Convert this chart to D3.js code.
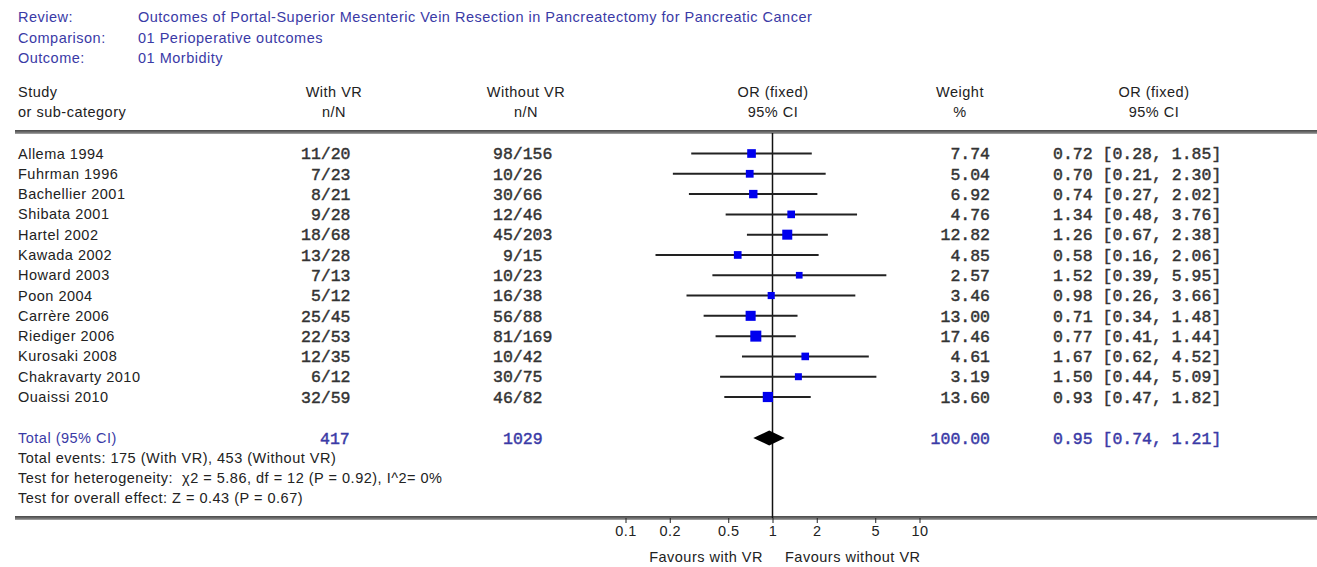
<!DOCTYPE html>
<html>
<head>
<meta charset="utf-8">
<script src="https://cdn.jsdelivr.net/npm/d3@7"></script>
<style>
  body { margin: 0; background: #fff; }
  text { white-space: pre; }
  .sans { font-family: 'Liberation Sans', Arial, sans-serif; font-size: 14.5px; letter-spacing: 0.5px; fill: #222; }
  .mono { font-family: 'Liberation Mono', 'Courier New', monospace; font-size: 16.5px; fill: #333; stroke: #333; stroke-width: 0.45px; }
</style>
</head>
<body>
<script>
// study rows
const studies = ["Allema 1994", "Fuhrman 1996", "Bachellier 2001", "Shibata 2001", "Hartel 2002",
  "Kawada 2002", "Howard 2003", "Poon 2004", "Carrère 2006", "Riediger 2006", "Kurosaki 2008",
  "Chakravarty 2010", "Ouaissi 2010"];
const evWith = [11, 7, 8, 9, 18, 13, 7, 5, 25, 22, 12, 6, 32];
const nWith = [20, 23, 21, 28, 68, 28, 13, 12, 45, 53, 35, 12, 59];
const evWithout = [98, 10, 30, 12, 45, 9, 10, 16, 56, 81, 10, 30, 46];
const nWithout = [156, 26, 66, 46, 203, 15, 23, 38, 88, 169, 42, 75, 82];
const weights = [7.74, 5.04, 6.92, 4.76, 12.82, 4.85, 2.57, 3.46, 13.00, 17.46, 4.61, 3.19, 13.60];
const ors = [0.72, 0.70, 0.74, 1.34, 1.26, 0.58, 1.52, 0.98, 0.71, 0.77, 1.67, 1.50, 0.93];
const lows = [0.28, 0.21, 0.27, 0.48, 0.67, 0.16, 0.39, 0.26, 0.34, 0.41, 0.62, 0.44, 0.47];
const highs = [1.85, 2.30, 2.02, 3.76, 2.38, 2.06, 5.95, 3.66, 1.48, 1.44, 4.52, 5.09, 1.82];

// pooled result
const totalN = [417, 1029];
const totalWeight = 100.00;
const totalOR = [0.95, 0.74, 1.21];

const ticks = [0.1, 0.2, 0.5, 1, 2, 5, 10];

const w = 1317;
const h = 567;
const blue = "#3a3aa6";

const svg = d3.select("body")
  .append("svg")
  .attr("width", w)
  .attr("height", h);

svg.append("rect").attr("width", w).attr("height", h).attr("fill", "#fff");

const x = d3.scaleLog().domain([0.1, 10]).range([625.5, 919.5]);
const y = d3.scaleLinear().domain([0, studies.length - 1]).range([153.5, 397]);
const size = d3.scaleSqrt().domain([0, d3.max(weights)]).range([4, 11]);
const totalY = 438;

// review info
const info = [["Review:", "Outcomes of Portal-Superior Mesenteric Vein Resection in Pancreatectomy for Pancreatic Cancer"],
  ["Comparison:", "01 Perioperative outcomes"],
  ["Outcome:", "01 Morbidity"]];
info.forEach((r, i) => {
  svg.append("text").attr("class", "sans").attr("x", 18).attr("y", 17 + i * 20.5).attr("dy", "0.35em")
    .text(r[0]).style("fill", blue);
  svg.append("text").attr("class", "sans").attr("x", 138).attr("y", 17 + i * 20.5).attr("dy", "0.35em")
    .text(r[1]).style("fill", blue);
});

// column headers
const heads = [
  [18, "start", "Study", "or sub-category"],
  [334, "middle", "With VR", "n/N"],
  [526, "middle", "Without VR", "n/N"],
  [773, "middle", "OR (fixed)", "95% CI"],
  [960, "middle", "Weight", "%"],
  [1154, "middle", "OR (fixed)", "95% CI"]
];
heads.forEach(c => {
  [c[2], c[3]].forEach((t, j) => {
    svg.append("text").attr("class", "sans").attr("x", c[0]).attr("y", 92 + j * 20).attr("dy", "0.35em")
      .attr("text-anchor", c[1]).text(t);
  });
});

// rules
[132, 518].forEach(yy => {
  svg.append("line").attr("x1", 15).attr("x2", w).attr("y1", yy).attr("y2", yy)
    .attr("stroke", "#777").attr("stroke-width", 3.5);
  svg.append("line").attr("x1", 15).attr("x2", w).attr("y1", yy - 1.2).attr("y2", yy - 1.2)
    .attr("stroke", "#333").attr("stroke-width", 1);
});

// null line
svg.append("line").attr("x1", x(1)).attr("x2", x(1)).attr("y1", 133).attr("y2", 518)
  .attr("stroke", "#111").attr("stroke-width", 1.5);

const pad = (n) => (n < 10 ? " " + n : "" + n);

const rows = svg.selectAll("g.row")
  .data(studies)
  .join("g")
  .attr("class", "row");

rows.append("text").attr("class", "sans")
  .attr("x", 18).attr("y", (d, i) => y(i)).attr("dy", "0.35em")
  .text(d => d);

rows.append("text").attr("class", "mono")
  .attr("x", 301).attr("y", (d, i) => y(i)).attr("dy", "0.35em")
  .text((d, i) => pad(evWith[i]) + "/" + nWith[i]);

rows.append("text").attr("class", "mono")
  .attr("x", 493).attr("y", (d, i) => y(i)).attr("dy", "0.35em")
  .text((d, i) => pad(evWithout[i]) + "/" + nWithout[i]);

rows.append("text").attr("class", "mono")
  .attr("x", 990).attr("y", (d, i) => y(i)).attr("dy", "0.35em")
  .attr("text-anchor", "end")
  .text((d, i) => weights[i].toFixed(2));

rows.append("text").attr("class", "mono")
  .attr("x", 1053).attr("y", (d, i) => y(i)).attr("dy", "0.35em")
  .text((d, i) => ors[i].toFixed(2) + " [" + lows[i].toFixed(2) + ", " + highs[i].toFixed(2) + "]");

// CI lines and squares
rows.append("line")
  .attr("x1", (d, i) => x(lows[i])).attr("x2", (d, i) => x(highs[i]))
  .attr("y1", (d, i) => y(i)).attr("y2", (d, i) => y(i))
  .attr("stroke", "#222").attr("stroke-width", 2);

rows.append("rect")
  .attr("x", (d, i) => x(ors[i]) - size(weights[i]) / 2)
  .attr("y", (d, i) => y(i) - size(weights[i]) / 2)
  .attr("width", (d, i) => size(weights[i]))
  .attr("height", (d, i) => size(weights[i]))
  .attr("fill", "#0000ee");

// total row
svg.append("text").attr("class", "sans").attr("x", 18).attr("y", totalY).attr("dy", "0.35em")
  .text("Total (95% CI)").style("fill", blue);
svg.append("text").attr("class", "mono").attr("x", 320).attr("y", totalY).attr("dy", "0.35em")
  .text(totalN[0]).style("fill", blue).style("stroke", blue);
svg.append("text").attr("class", "mono").attr("x", 503).attr("y", totalY).attr("dy", "0.35em")
  .text(totalN[1]).style("fill", blue).style("stroke", blue);
svg.append("text").attr("class", "mono").attr("x", 990).attr("y", totalY).attr("dy", "0.35em")
  .attr("text-anchor", "end").text(totalWeight.toFixed(2)).style("fill", blue).style("stroke", blue);
svg.append("text").attr("class", "mono").attr("x", 1053).attr("y", totalY).attr("dy", "0.35em")
  .text(totalOR[0].toFixed(2) + " [" + totalOR[1].toFixed(2) + ", " + totalOR[2].toFixed(2) + "]")
  .style("fill", blue).style("stroke", blue);

svg.append("path")
  .attr("d", d3.line()([[x(totalOR[1]), totalY], [x(totalOR[0]), totalY - 7.5],
    [x(totalOR[2]), totalY], [x(totalOR[0]), totalY + 7.5]]) + "Z")
  .attr("fill", "#000");

// footnotes
const notes = ["Total events: 175 (With VR), 453 (Without VR)",
  "Test for heterogeneity:  \u03c72 = 5.86, df = 12 (P = 0.92), I^2= 0%",
  "Test for overall effect: Z = 0.43 (P = 0.67)"];
svg.selectAll("text.note")
  .data(notes)
  .join("text")
  .attr("class", "note sans")
  .attr("x", 18).attr("y", (d, i) => 458 + i * 20).attr("dy", "0.35em")
  .text(d => d);

// axis
const axis = svg.append("g")
  .attr("transform", "translate(0,518)")
  .call(d3.axisBottom(x).tickValues(ticks).tickFormat(d3.format("")).tickSize(5).tickPadding(3));
axis.select(".domain").remove();
axis.selectAll("line").attr("stroke", "#222");
axis.selectAll("text").attr("class", "sans").attr("fill", null);

svg.append("text").attr("class", "sans").attr("x", 763).attr("y", 557).attr("dy", "0.35em")
  .attr("text-anchor", "end").text("Favours with VR");
svg.append("text").attr("class", "sans").attr("x", 785).attr("y", 557).attr("dy", "0.35em")
  .text("Favours without VR");
</script>
</body>
</html>
